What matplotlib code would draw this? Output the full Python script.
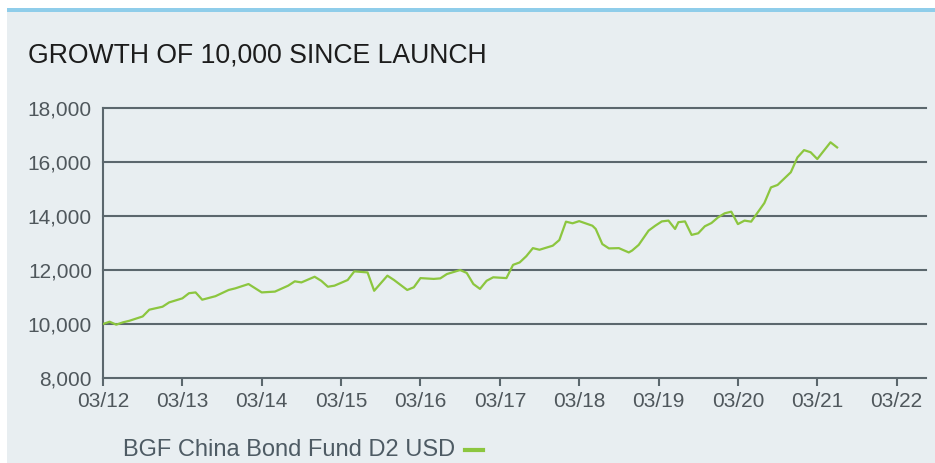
import matplotlib

matplotlib.use("Agg")
import matplotlib.pyplot as plt  # noqa: E402
from matplotlib.lines import Line2D  # noqa: E402
from matplotlib.patches import Rectangle  # noqa: E402

plt.rcParams["font.family"] = ["Liberation Sans", "DejaVu Sans"]

PANEL = "#e8eef1"
STRIPE = "#8fcdea"
GRID = "#5b676d"
LINE = "#8cc63f"
TICK_TXT = "#4f575c"

# months since launch (03/2012) and value of 10,000 invested
months = [0, 1, 2, 3, 4, 6, 7, 9, 10, 12, 13, 14, 15, 17, 19, 20, 22, 24, 26,
          28, 29, 30, 32, 33, 34, 35, 37, 38, 40, 41, 43, 44, 46, 47, 48, 50,
          51, 52, 54, 55, 56, 57, 58, 59, 61, 62, 63, 64, 65, 66, 68, 69, 70,
          71, 72, 74, 74.5, 75.5, 76.5, 78, 79.5, 80, 81, 82.5, 83.5, 84.5,
          85.5, 86.5, 87, 88, 89, 90, 91, 92, 93, 94, 95, 96, 97, 98, 100,
          101, 102, 104, 105, 106, 107, 108, 109, 110, 111]
values = [10000, 10085, 9975, 10060, 10120, 10280, 10530, 10640, 10800, 10950,
          11140, 11170, 10900, 11030, 11260, 11320, 11480, 11170, 11200, 11420,
          11580, 11540, 11750, 11600, 11380, 11420, 11630, 11950, 11910, 11230,
          11790, 11630, 11260, 11360, 11700, 11670, 11690, 11850, 12000, 11890,
          11480, 11300, 11600, 11730, 11700, 12190, 12280, 12510, 12810, 12750,
          12900, 13110, 13790, 13730, 13810, 13640, 13520, 12960, 12800, 12810,
          12650, 12720, 12930, 13460, 13640, 13800, 13830, 13520, 13770, 13800,
          13300, 13360, 13620, 13740, 13950, 14100, 14160, 13700, 13830, 13790,
          14480, 15060, 15150, 15620, 16170, 16440, 16360, 16110, 16420, 16730,
          16540]

years = list(range(2012, 2023))
tick_labels = [f"03/{y % 100:02d}" for y in years]
y_ticks = [8000, 10000, 12000, 14000, 16000, 18000]

title = "GROWTH OF 10,000 SINCE LAUNCH"
series_name = "BGF China Bond Fund D2 USD"

start = 2012 + 2 / 12
xs = [start + m / 12 for m in months]
tick_pos = [y + 2 / 12 for y in years]

fig = plt.figure(figsize=(9.35, 4.63), dpi=100, facecolor="white")

# background panel with a thin blue band on top
fig.patches.append(Rectangle((7 / 935, 0), 1, 1 - 12 / 463, transform=fig.transFigure,
                             facecolor=PANEL, edgecolor="none", zorder=-2))
fig.patches.append(Rectangle((7 / 935, 1 - 12 / 463), 1, 4 / 463, transform=fig.transFigure,
                             facecolor=STRIPE, edgecolor="none", zorder=-2))

ax = fig.add_axes([103 / 935, 85 / 463, 823 / 935, 270 / 463])
ax.set_facecolor("none")
ax.plot(xs, values, color=LINE, lw=1.6, zorder=3, solid_joinstyle="round")

ax.set_xlim(start, start + 10.37)
ax.set_ylim(8000, 18000)
ax.set_yticks(y_ticks)
ax.set_yticklabels([f"{v:,}" for v in y_ticks])
ax.set_xticks(tick_pos)
ax.set_xticklabels(tick_labels)

for v in y_ticks[1:]:
    ax.axhline(v, color=GRID, lw=1.5, zorder=2, clip_on=False)

for side in ("top", "right"):
    ax.spines[side].set_visible(False)
for side in ("left", "bottom"):
    ax.spines[side].set_color(GRID)
    ax.spines[side].set_linewidth(1.5)

ax.tick_params(axis="y", length=0, pad=8, labelsize=15, labelcolor=TICK_TXT)
ax.tick_params(axis="x", direction="out", length=6, width=1.5, color=GRID,
               pad=4, labelsize=15, labelcolor=TICK_TXT)

fig.text(28 / 935, 1 - 62 / 463, title, fontsize=19.2, color="#1c1c1c",
         ha="left", va="baseline")

leg_y = 1 - 450 / 463
fig.text(123 / 935, leg_y, series_name, fontsize=17, color="#4e5b64",
         ha="left", va="center")
fig.lines.append(Line2D([465 / 935, 483 / 935], [leg_y, leg_y], transform=fig.transFigure,
                        color=LINE, lw=3))

fig.savefig("out.png", dpi=100, facecolor="white")
